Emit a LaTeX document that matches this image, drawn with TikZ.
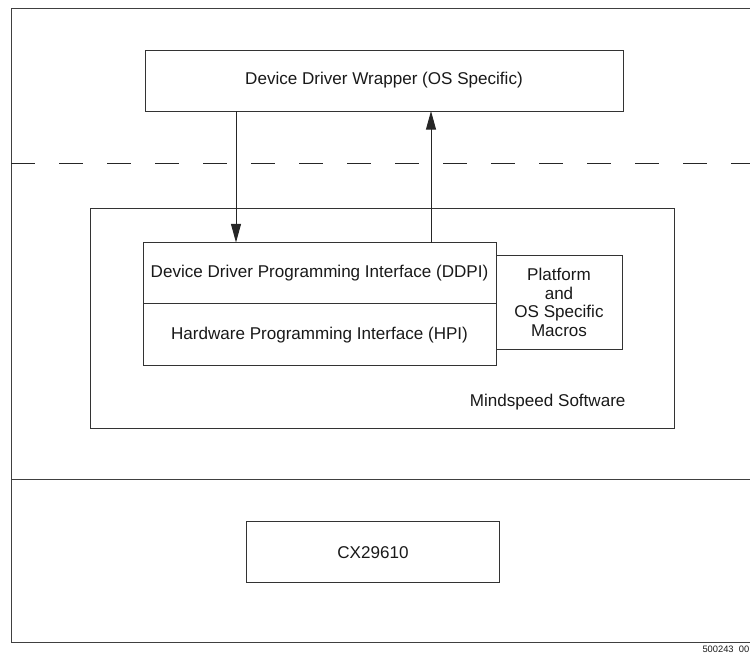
\documentclass[tikz,border=0pt]{standalone}
\usepackage{fontspec}
\setmainfont{Liberation Sans}
\usetikzlibrary{arrows.meta,positioning}

\tikzset{every picture/.style={line width=0.75pt}}
\tikzset{
  blk/.style={draw=black!80, rectangle, inner sep=0pt, outer sep=0pt, align=center,
    font=\fontsize{12.8}{14}\selectfont, text=black!90},
  arr/.style={draw=black!85, -{Triangle[length=14pt,width=7.5pt]}}
}

\begin{document}
\begin{tikzpicture}[x=0.75pt,y=0.75pt,yscale=-1,xscale=1]
\useasboundingbox (0,0) rectangle (750,653);

%Frame lines
\draw [black!75] (770,8) -- (11,8) -- (11,642) -- (770,642) ;
%Straight Lines
\draw [black!75] (11,479) -- (770,479) ;
%Straight Lines
\draw [black!85, dash pattern={on 18pt off 18pt}] (11,163.5) -- (770,163.5) ;

%Shape: Rectangle
\node [blk, minimum width=358.5pt, minimum height=45.75pt] (wrapper) at (384,80.5) {Device Driver Wrapper (OS Specific)};
%Shape: Rectangle
\node [blk, minimum width=438pt, minimum height=165pt] (mindspeed) at (382,318.5) {};
%Shape: Rectangle
\node [blk, minimum width=264.75pt, minimum height=46.1pt] (ddpi) at (319.5,273.25) {Device Driver Programming Interface (DDPI)};
%Shape: Rectangle
\node [blk, minimum width=264.75pt, minimum height=46.1pt, below=0pt of ddpi] (hpi) {Hardware Programming Interface (HPI)};
%Shape: Rectangle
\node [blk, minimum width=94.5pt, minimum height=70.5pt] (macros) at (559,302.5) {Platform\\and\\OS Specific\\Macros};
%Shape: Rectangle
\node [blk, minimum width=189.5pt, minimum height=45.75pt] (cx) at (373,552.2) {CX29610};

% Text Node
\node [anchor=base east, inner sep=0pt, font=\fontsize{12.8}{14}\selectfont, text=black!90] (mslabel) at (626,406.5) {Mindspeed Software};
% Text Node
\node [anchor=base west, inner sep=0pt, font=\fontsize{7}{8}\selectfont, text=black!90] (figno) at (702,652) {500243\_00};

%Arrows
\coordinate (dn) at (236,0);
\coordinate (up) at (431,0);
\draw [arr] (wrapper.south -| dn) -- (ddpi.north -| dn) ;
\draw [arr] (ddpi.north -| up) -- (wrapper.south -| up) ;
\end{tikzpicture}
\end{document}
